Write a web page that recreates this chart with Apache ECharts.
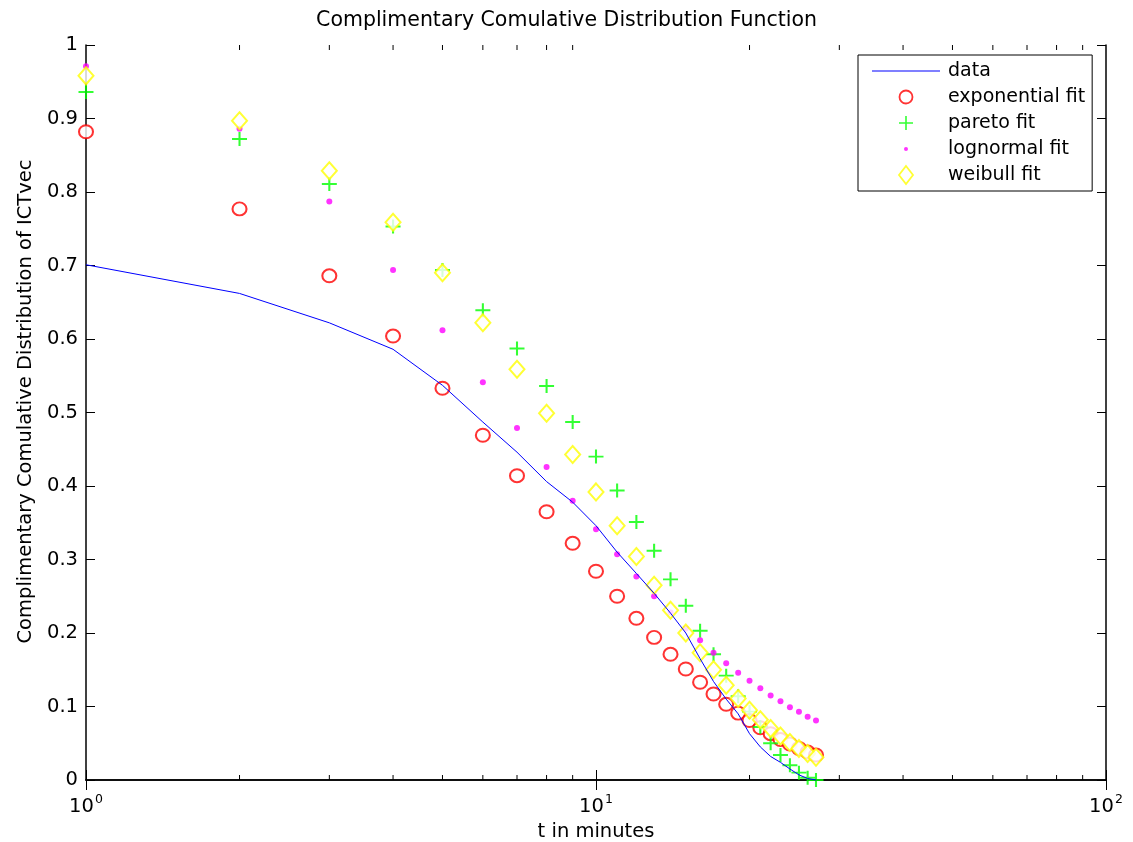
<!DOCTYPE html>
<html>
<head>
<meta charset="utf-8">
<script src="https://cdn.jsdelivr.net/npm/echarts@6/dist/echarts.min.js"></script>
<style>html,body{margin:0;padding:0;background:#fff}#c{width:1133px;height:842px}</style>
</head>
<body>
<div id="c"></div>
<script>
const tMinutes = [1,2,3,4,5,6,7,8,9,10,11,12,13,14,15,16,17,18,19,20,21,22,23,24,25,26,27];
const dataCCDF = [0.701,0.662,0.622,0.586,0.537,0.487,0.446,0.406,0.378,0.346,0.310,0.281,0.254,0.227,0.200,0.165,0.134,0.110,0.090,0.063,0.045,0.032,0.024,0.015,0.007,0.002,0.000];
const exponentialFit = [0.882,0.777,0.686,0.604,0.533,0.469,0.414,0.365,0.322,0.284,0.250,0.220,0.194,0.171,0.151,0.133,0.117,0.103,0.091,0.081,0.071,0.063,0.055,0.049,0.043,0.038,0.034];
const paretoFit = [0.936,0.872,0.811,0.753,0.694,0.639,0.587,0.536,0.487,0.440,0.394,0.351,0.312,0.273,0.237,0.203,0.171,0.142,0.114,0.093,0.072,0.050,0.034,0.020,0.010,0.003,0.000];
const lognormalFit = [0.971,0.886,0.787,0.694,0.612,0.541,0.479,0.426,0.380,0.341,0.307,0.277,0.250,0.228,0.206,0.190,0.173,0.159,0.146,0.135,0.125,0.115,0.107,0.099,0.093,0.086,0.081];
const weibullFit = [0.958,0.897,0.829,0.759,0.690,0.622,0.559,0.499,0.443,0.392,0.346,0.304,0.265,0.231,0.200,0.173,0.150,0.129,0.111,0.095,0.082,0.070,0.060,0.051,0.043,0.036,0.031];
const minorTicks = [2,3,4,5,6,7,8,9,20,30,40,50,60,70,80,90];
const seriesNames = ['data','exponential fit','pareto fit','lognormal fit','weibull fit'];

const pair = arr => tMinutes.map((t, i) => [t, arr[i]]);
const FONT = 'DejaVu Sans';
const axisLineStyle = {color: '#000', width: 1.5};
const plusPath = 'path://M0,7L14,7M7,0L7,14';

const chart = echarts.init(document.getElementById('c'), null, {renderer: 'canvas'});
chart.setOption({
  backgroundColor: '#fff',
  animation: false,
  title: {
    text: 'Complimentary Comulative Distribution Function',
    left: 'center', top: 5,
    textStyle: {fontFamily: FONT, fontSize: 20.5, fontWeight: 'normal', color: '#000'}
  },
  grid: {left: 86, right: 27, top: 45, bottom: 62, containLabel: false, outerBoundsMode: 'none'},
  legend: {
    orient: 'vertical',
    left: 858, top: 55,
    padding: [6, 7, 6, 14],
    itemWidth: 68, itemHeight: 18, itemGap: 6,
    borderColor: '#000', borderWidth: 1, backgroundColor: '#fff',
    textStyle: {fontFamily: FONT, fontSize: 19, color: '#000', lineHeight: 20, padding: [0, 0, 0, 3]},
    data: [
      {name: seriesNames[0], icon: 'path://M0,0M68,18M0,8.5L68,8.5L68,9.5L0,9.5Z',
        itemStyle: {color: '#0000ff', borderWidth: 0}},
      {name: seriesNames[1], icon: 'path://M0,0M18,18M9,2.5A6.5,6.5,0,1,1,8.99,2.5Z',
        itemStyle: {color: '#fff', borderColor: '#ff0000', borderWidth: 1.8}},
      {name: seriesNames[2], icon: 'path://M0,0M18,18M2,9L16,9M9,2L9,16',
        itemStyle: {color: '#00ff00', borderColor: '#00ff00', borderWidth: 1.6}},
      {name: seriesNames[3], icon: 'path://M0,0M18,18M9,7A2,2,0,1,1,8.99,7Z',
        itemStyle: {color: '#ff00ff', borderWidth: 0}},
      {name: seriesNames[4], icon: 'path://M0,0M18,18M9,0L16,9L9,18L2,9Z',
        itemStyle: {color: '#fff', borderColor: '#ffff00', borderWidth: 1.8}}
    ]
  },
  xAxis: [
    {
      type: 'log', logBase: 10, min: 1, max: 100, position: 'bottom',
      name: 't in minutes', nameLocation: 'middle', nameGap: 35,
      nameTextStyle: {fontFamily: FONT, fontSize: 19.5, color: '#000'},
      axisLine: {show: true, lineStyle: axisLineStyle},
      axisTick: {show: true, inside: true, length: 10, lineStyle: {color: '#000', width: 1}},
      splitLine: {show: false},
      axisLabel: {
        margin: 13, color: '#000',
        formatter: v => '{a|10}{s|' + Math.round(Math.log10(v)) + '}',
        rich: {
          a: {fontFamily: FONT, fontSize: 19.5, color: '#000', verticalAlign: 'bottom'},
          s: {fontFamily: FONT, fontSize: 12.5, color: '#000', verticalAlign: 'bottom', padding: [0, 0, 11, 1]}
        }
      }
    },
    {
      type: 'log', logBase: 10, min: 1, max: 100, position: 'top',
      axisLine: {show: true, lineStyle: axisLineStyle},
      axisTick: {show: true, inside: true, length: 10, lineStyle: {color: '#000', width: 1}},
      axisLabel: {show: false}, splitLine: {show: false}
    }
  ],
  yAxis: [
    {
      type: 'value', min: 0, max: 1, interval: 0.1, position: 'left',
      name: 'Complimentary Comulative Distribution of ICTvec', nameLocation: 'middle', nameGap: 38,
      nameTextStyle: {fontFamily: FONT, fontSize: 19.5, color: '#000', padding: [0, 0, 0, 22]},
      axisLine: {show: true, lineStyle: axisLineStyle},
      axisTick: {show: true, inside: true, length: 9, lineStyle: {color: '#000', width: 1}},
      splitLine: {show: false},
      axisLabel: {margin: 8, fontFamily: FONT, fontSize: 19.5, color: '#000',
        formatter: v => String(Math.round(v * 10) / 10)}
    },
    {
      type: 'value', min: 0, max: 1, interval: 0.1, position: 'right',
      axisLine: {show: true, lineStyle: axisLineStyle},
      axisTick: {show: true, inside: true, length: 9, lineStyle: {color: '#000', width: 1}},
      axisLabel: {show: false}, splitLine: {show: false}
    }
  ],
  series: [
    {
      name: seriesNames[0], type: 'line', data: pair(dataCCDF),
      symbol: 'none', showSymbol: false, clip: false,
      lineStyle: {color: '#0000ff', width: 1}, itemStyle: {color: '#0000ff'}
    },
    {
      name: seriesNames[1], type: 'scatter', data: pair(exponentialFit), clip: false,
      symbol: 'emptyCircle', symbolSize: [14, 13],
      itemStyle: {color: '#ff0000', borderColor: '#ff0000', borderWidth: 2}
    },
    {
      name: seriesNames[2], type: 'scatter', data: pair(paretoFit), clip: false,
      symbol: plusPath, symbolSize: [15, 14],
      itemStyle: {color: '#00ff00', borderColor: '#00ff00', borderWidth: 2}
    },
    {
      name: seriesNames[3], type: 'scatter', data: pair(lognormalFit), clip: false,
      symbol: 'circle', symbolSize: 6,
      itemStyle: {color: '#ff00ff'}
    },
    {
      name: seriesNames[4], type: 'scatter', data: pair(weibullFit), clip: false,
      symbol: 'emptyDiamond', symbolSize: [15, 17],
      itemStyle: {color: '#ffff00', borderColor: '#ffff00', borderWidth: 2}
    },
    {
      name: 'minorTicks', type: 'custom', silent: true, clip: false, z: 1,
      data: minorTicks.map(v => [v, 0]),
      renderItem: (params, api) => {
        const v = api.value(0);
        const b = api.coord([v, 0]);
        const t = api.coord([v, 1]);
        return {
          type: 'group',
          children: [
            {type: 'line', shape: {x1: b[0], y1: b[1], x2: b[0], y2: b[1] - 5}, style: {stroke: '#000', lineWidth: 1}},
            {type: 'line', shape: {x1: t[0], y1: t[1], x2: t[0], y2: t[1] + 5}, style: {stroke: '#000', lineWidth: 1}}
          ]
        };
      }
    }
  ]
});
</script>
</body>
</html>
